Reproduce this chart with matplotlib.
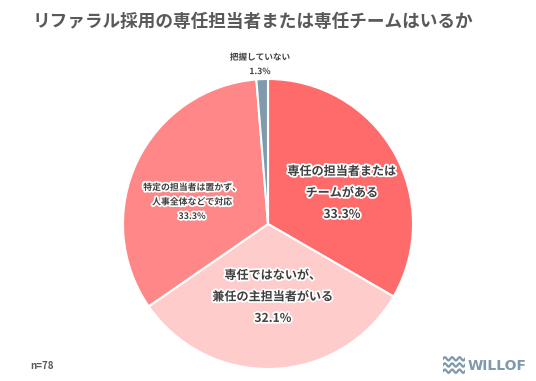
import numpy as np
import matplotlib.pyplot as plt
import matplotlib.patheffects as pe

plt.rcParams['font.family'] = ['Noto Sans CJK JP', 'DejaVu Sans']

# data (n=78)
labels = ["専任の担当者または\nチームがある",
          "専任ではないが、\n兼任の主担当者がいる",
          "特定の担当者は置かず、\n人事全体などで対応",
          "把握していない"]
counts = [26, 25, 26, 1]
pcts = [33.3, 32.1, 33.3, 1.3]
colors = ["#FF6B6B", "#FFCCCC", "#FF8787", "#7E9AAC"]

# label centres in pie-radius units, font sizes, line spacing
label_xy = [(0.51, 0.214), (0.034, -0.503), (-0.524, 0.152), (-0.055, 1.10)]
label_fs = [8.7, 8.7, 6.4, 6.2]
label_ls = [1.85, 1.85, 1.75, 1.75]

W, H = 536, 381
fig = plt.figure(figsize=(W / 100, H / 100), dpi=100)
cx, cy, R = 268, 224, 145
lim = 1.03
ax = fig.add_axes([(cx - R * lim) / W, (H - cy - R * lim) / H,
                   2 * R * lim / W, 2 * R * lim / H])

wedges, _ = ax.pie(counts, colors=colors, startangle=90, counterclock=False,
                   wedgeprops=dict(edgecolor="white", linewidth=1.5))
ax.set_xlim(-lim, lim)
ax.set_ylim(-lim, lim)
ax.set_aspect("equal")

stroke = [pe.withStroke(linewidth=2.5, foreground="white")]
for i in range(len(labels)):
    x, y = label_xy[i]
    ax.text(x, y, f"{labels[i]}\n{pcts[i]}%", ha="center", va="center",
            fontsize=label_fs[i], fontweight="bold", color="#404040",
            linespacing=label_ls[i], path_effects=stroke, clip_on=False)

fig.text(33 / W, 1 - 22 / H, "リファラル採用の専任担当者または専任チームはいるか",
         fontsize=12.7, fontweight="bold", color="#595959", va="center", ha="left")
fig.text(30 / W, 1 - 366 / H, "n=78", fontsize=7, color="#595959",
         fontweight="bold", va="center")

# logo
lax = fig.add_axes([443 / W, 1 - 374 / H, 22 / W, 18 / H])
t = np.linspace(0, 3 * 2 * np.pi, 200)
for k in range(3):
    lax.plot(t, np.sin(t) * 0.35 + k * 1.3, color="#7E9AAC", lw=1.6)
lax.set_xlim(0, t[-1])
lax.set_ylim(-0.6, 3.2)
lax.axis("off")
fig.text(468 / W, 1 - 366 / H, "WILLOF", fontsize=10, fontweight="bold",
         color="#7E9AAC", family="DejaVu Sans", va="center")

fig.savefig("out.png", dpi=100)
